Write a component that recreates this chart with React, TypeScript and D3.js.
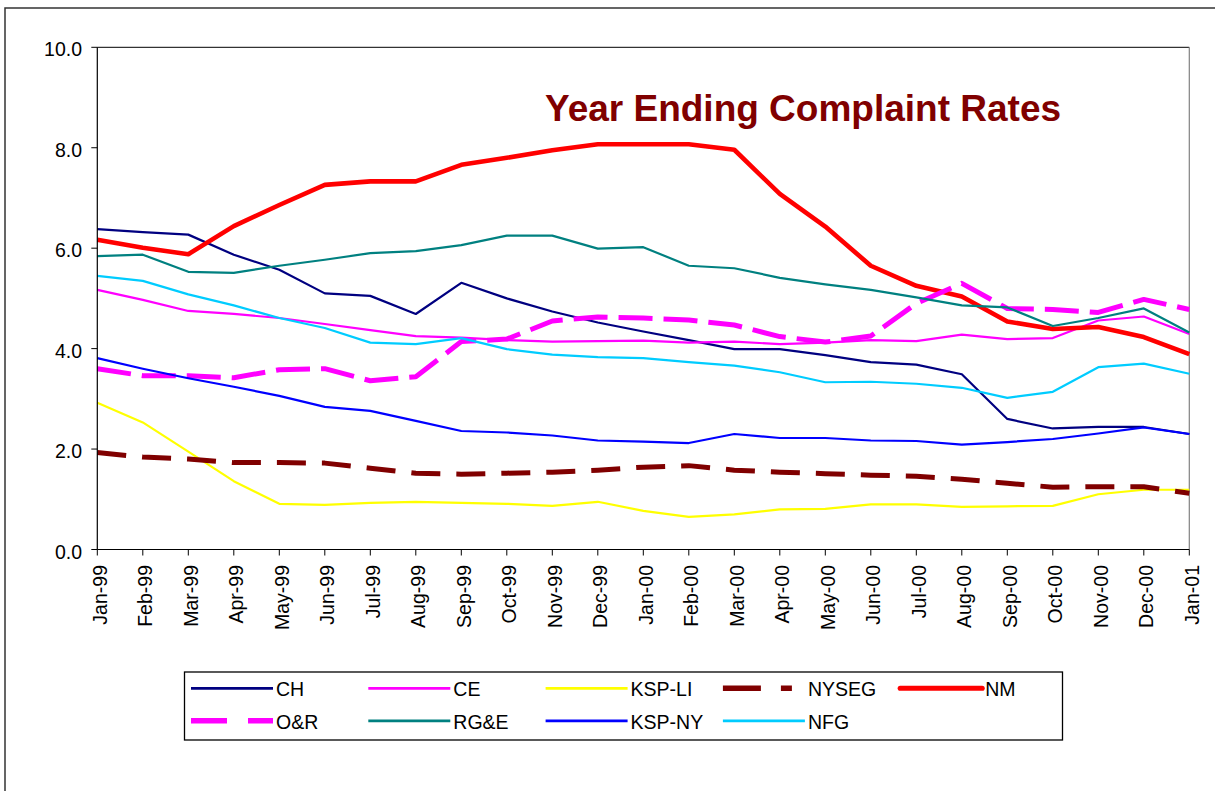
import React from 'react'
import * as d3 from 'd3'

const months = [
  'Jan-99', 'Feb-99', 'Mar-99', 'Apr-99', 'May-99', 'Jun-99', 'Jul-99', 'Aug-99', 'Sep-99',
  'Oct-99', 'Nov-99', 'Dec-99', 'Jan-00', 'Feb-00', 'Mar-00', 'Apr-00', 'May-00', 'Jun-00',
  'Jul-00', 'Aug-00', 'Sep-00', 'Oct-00', 'Nov-00', 'Dec-00', 'Jan-01',
]
const yTicks = [0, 2, 4, 6, 8, 10]

const CH = [6.38, 6.32, 6.27, 5.87, 5.57, 5.1, 5.05, 4.69, 5.31, 5.0, 4.74, 4.52, 4.34, 4.17, 3.99, 3.99, 3.87, 3.73, 3.68, 3.49, 2.6, 2.41, 2.44, 2.44, 2.3]
const CE = [5.17, 4.97, 4.75, 4.69, 4.61, 4.49, 4.37, 4.25, 4.22, 4.17, 4.14, 4.15, 4.16, 4.12, 4.14, 4.09, 4.12, 4.17, 4.15, 4.28, 4.19, 4.21, 4.56, 4.64, 4.29]
const KSPLI = [2.92, 2.53, 1.95, 1.36, 0.91, 0.89, 0.93, 0.95, 0.93, 0.91, 0.87, 0.95, 0.77, 0.65, 0.7, 0.8, 0.81, 0.9, 0.9, 0.85, 0.86, 0.87, 1.1, 1.19, 1.19]
const NYSEG = [1.93, 1.84, 1.8, 1.73, 1.73, 1.72, 1.62, 1.52, 1.5, 1.52, 1.54, 1.58, 1.64, 1.67, 1.58, 1.54, 1.51, 1.48, 1.46, 1.4, 1.32, 1.24, 1.25, 1.25, 1.12]
const NM = [6.17, 6.01, 5.88, 6.44, 6.86, 7.26, 7.33, 7.33, 7.66, 7.8, 7.95, 8.07, 8.07, 8.07, 7.96, 7.08, 6.43, 5.65, 5.25, 5.04, 4.54, 4.39, 4.43, 4.23, 3.89]
const OR = [3.6, 3.46, 3.46, 3.42, 3.58, 3.6, 3.36, 3.44, 4.14, 4.19, 4.55, 4.63, 4.61, 4.57, 4.47, 4.24, 4.13, 4.25, 4.9, 5.3, 4.8, 4.78, 4.72, 4.98, 4.78]
const RGE = [5.84, 5.87, 5.53, 5.51, 5.65, 5.77, 5.9, 5.94, 6.06, 6.25, 6.25, 5.99, 6.02, 5.65, 5.6, 5.41, 5.28, 5.17, 5.02, 4.86, 4.82, 4.45, 4.61, 4.8, 4.32]
const KSPNY = [3.81, 3.6, 3.41, 3.24, 3.06, 2.84, 2.76, 2.56, 2.36, 2.33, 2.27, 2.17, 2.15, 2.12, 2.3, 2.22, 2.22, 2.17, 2.16, 2.09, 2.14, 2.2, 2.31, 2.43, 2.3]
const NFG = [5.45, 5.35, 5.08, 4.86, 4.61, 4.41, 4.12, 4.09, 4.21, 3.99, 3.88, 3.83, 3.81, 3.73, 3.66, 3.53, 3.33, 3.34, 3.3, 3.22, 3.02, 3.14, 3.63, 3.7, 3.5]

const seriesNames = ['CH', 'CE', 'KSP-LI', 'NYSEG', 'NM', 'O&R', 'RG&E', 'KSP-NY', 'NFG']
const seriesValues = [CH, CE, KSPLI, NYSEG, NM, OR, RGE, KSPNY, NFG]
const seriesColors = ['#000080', '#FF00FF', '#FFFF00', '#800000', '#FF0000', '#FF00FF', '#008080', '#0000FF', '#00CCFF']
const seriesWidths = [2.2, 2.2, 2.2, 5, 4.6, 5, 2.2, 2.2, 2.2]
const seriesDash = ['', '', '', '29 16', '', '34 11', '', '', '']
const legendDash = ['', '', '', '38 20 11 20', '', '36 21', '', '', '']

const font = "'Liberation Sans', Arial, sans-serif"

export default function App() {
  const x = d3.scalePoint<string>().domain(months).range([97.3, 1189.3])
  const y = d3.scaleLinear().domain([0, 10]).range([549.5, 47.3])
  const line = d3
    .line<number>()
    .x((_, i) => x(months[i]) as number)
    .y((d) => y(d))

  const left = 97.3
  const right = 1189.3

  return (
    <svg
      width={1215}
      height={791}
      style={{ position: 'absolute', left: 0, top: 0, background: '#fff' }}
      fontFamily={font}
    >
      <rect x={0} y={0} width={1215} height={791} fill='#fff' />
      {/* outer chart frame */}
      <path d='M5,800 V8 H1220' fill='none' stroke='#333' strokeWidth={1.5} />

      {/* plot area border */}
      <line x1={left} x2={right} y1={y(10)} y2={y(10)} stroke='#000' strokeWidth={1} />
      <line x1={right} x2={right} y1={y(10)} y2={y(0)} stroke='#808080' strokeWidth={1.2} />

      {/* title */}
      <text x={545} y={121} fontSize={37} fontWeight='bold' fill='#800000'>
        Year Ending Complaint Rates
      </text>

      {/* series */}
      {seriesValues.map((vals, k) => (
        <path
          key={seriesNames[k]}
          d={line(vals) || ''}
          fill='none'
          stroke={seriesColors[k]}
          strokeWidth={seriesWidths[k]}
          strokeDasharray={seriesDash[k] || undefined}
          strokeLinejoin='round'
        />
      ))}

      {/* y axis */}
      <line x1={left} x2={left} y1={y(10)} y2={y(0)} stroke='#000' strokeWidth={1.2} />
      {yTicks.map((t) => (
        <g key={t}>
          <line x1={left - 6} x2={left} y1={y(t)} y2={y(t)} stroke='#000' strokeWidth={1} />
          <text x={82} y={y(t) + 9} textAnchor='end' fontSize={19.5} fill='#000'>
            {t.toFixed(1)}
          </text>
        </g>
      ))}

      {/* x axis */}
      <line x1={left} x2={right} y1={y(0)} y2={y(0)} stroke='#000' strokeWidth={1.2} />
      {months.map((m) => (
        <g key={m}>
          <line x1={x(m)} x2={x(m)} y1={y(0)} y2={y(0) + 6} stroke='#000' strokeWidth={1} />
          <text
            transform={`translate(${(x(m) as number) + 9.5}, 565) rotate(-90)`}
            textAnchor='end'
            fontSize={19.5}
            fill='#000'
          >
            {m}
          </text>
        </g>
      ))}

      {/* legend */}
      <rect x={184.5} y={672} width={878} height={68} fill='#fff' stroke='#000' strokeWidth={1.3} />
      {seriesNames.map((name, k) => {
        const col = k < 5 ? k : k - 5
        const row = k < 5 ? 0 : 1
        const lx = 191 + col * 177.3
        const ly = 688.3 + row * 32.5
        return (
          <g key={name}>
            <line
              x1={lx}
              x2={lx + 82}
              y1={ly}
              y2={ly}
              stroke={seriesColors[k]}
              strokeWidth={seriesWidths[k] + 0.5}
              strokeDasharray={legendDash[k] || undefined}
              strokeLinecap={k === 4 ? 'round' : 'butt'}
            />
            <text x={lx + 85} y={ly + 8} fontSize={19.5} fill='#000'>
              {name}
            </text>
          </g>
        )
      })}
    </svg>
  )
}
